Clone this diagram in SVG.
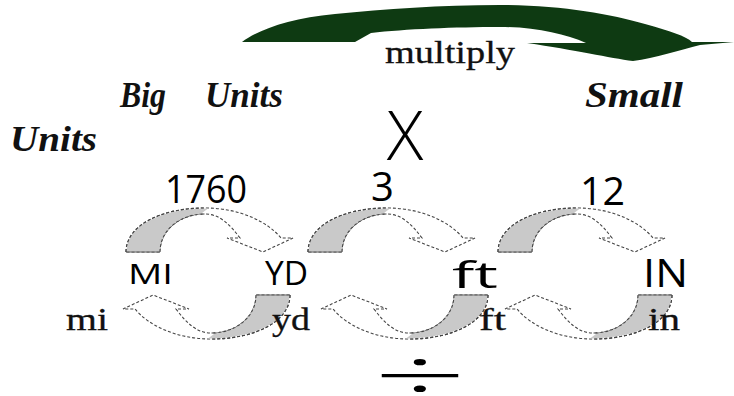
<svg xmlns="http://www.w3.org/2000/svg" width="734" height="396" viewBox="0 0 734 396">
<style>
.typed{font-family:"Liberation Serif","Times New Roman",serif;font-size:32px;fill:#111;stroke:#111;stroke-width:0.3}
.head{font-family:"Liberation Serif","Times New Roman",serif;font-size:35px;font-weight:bold;font-style:italic;fill:#111}
.hand{font-family:"Open Sans","DejaVu Sans",sans-serif;fill:#000}
.rib{fill:#fff;stroke:#444;stroke-width:1.1;stroke-dasharray:3 2}
.ribg{fill:#c9c9c9}
</style>
<defs>
<g id="arc">
<path class="rib" d="M126,252 C126,226 160,208 205,208 C240,208 268,222 281,238 L293,238 L263,252 L227,238 L240,238 C230,225 220,214 205,214 C180,214 160,230 160,252 Z"/>
<path class="ribg" d="M126.6,251.5 C126.6,226 160,208.6 208,208.6 L200,214.6 C180,215 160.6,230 160.6,251.5 Z"/>
<path d="M126,252 C126,226 160,208 205,208 M160,252 C160,230 180,214 205,214" fill="none" stroke="#444" stroke-width="1.1" stroke-dasharray="3 2"/>
<path d="M126,252 L160,252" stroke="#555" stroke-width="1.2"/>
</g>
</defs>
<g id="multiply-arrow">
<path fill="#0e3a12" d="M242,42 C258,30 290,18 335,14 C385,9 440,5 500,5 C560,5 610,14 645,24 C670,31 686,36 692,42 L734,42 L700,45 C680,50 655,58 633,61 C610,58 575,50 527,43 L586,43 C565,34 535,27 500,27 C455,27 405,29 371,33 L355,42 Z"/>
<text class="typed" x="385" y="63" font-size="30" textLength="130" lengthAdjust="spacingAndGlyphs">multiply</text>
</g>
<g id="headings">
<text class="head" x="120" y="107" textLength="46" lengthAdjust="spacingAndGlyphs">Big</text>
<text class="head" x="205" y="107" textLength="78" lengthAdjust="spacingAndGlyphs">Units</text>
<text class="head" x="585" y="107" textLength="98" lengthAdjust="spacingAndGlyphs">Small</text>
<text class="head" x="10" y="151" textLength="87" lengthAdjust="spacingAndGlyphs">Units</text>
</g>
<g id="connectors">
<use href="#arc"/>
<use href="#arc" transform="translate(182,0)"/>
<use href="#arc" transform="translate(372,0)"/>
<use href="#arc" transform="translate(416,547) scale(-1,-1)"/>
<use href="#arc" transform="translate(614,547) scale(-1,-1)"/>
<use href="#arc" transform="translate(798,547) scale(-1,-1)"/>
</g>
<g id="factors">
<text class="hand" x="405" y="160" font-size="68" font-weight="300" text-anchor="middle">X</text>
<text class="hand" x="165" y="203" font-size="38" textLength="82" lengthAdjust="spacingAndGlyphs">1760</text>
<text class="hand" x="371" y="201" font-size="40">3</text>
<text class="hand" x="580" y="205" font-size="38" textLength="45" lengthAdjust="spacingAndGlyphs">12</text>
<text class="hand" x="420" y="402" font-size="76" font-weight="300" text-anchor="middle" textLength="94" lengthAdjust="spacingAndGlyphs">÷</text>
</g>
<g id="node-mi">
<text class="hand" x="128" y="284" font-size="27" textLength="45" lengthAdjust="spacingAndGlyphs">MI</text>
<text class="typed" x="66" y="330" textLength="42" lengthAdjust="spacingAndGlyphs">mi</text>
</g>
<g id="node-yd">
<text class="hand" x="265" y="285" font-size="32" textLength="43" lengthAdjust="spacingAndGlyphs">YD</text>
<text class="typed" x="272" y="330" textLength="38" lengthAdjust="spacingAndGlyphs">yd</text>
</g>
<g id="node-ft">
<text class="hand" x="452" y="288" font-size="36" textLength="46" lengthAdjust="spacingAndGlyphs">ft</text>
<text class="typed" x="479" y="330" textLength="27" lengthAdjust="spacingAndGlyphs">ft</text>
</g>
<g id="node-in">
<text class="hand" x="643" y="287" font-size="38" textLength="45" lengthAdjust="spacingAndGlyphs">IN</text>
<text class="typed" x="648" y="330" textLength="32" lengthAdjust="spacingAndGlyphs">in</text>
</g>
</svg>
